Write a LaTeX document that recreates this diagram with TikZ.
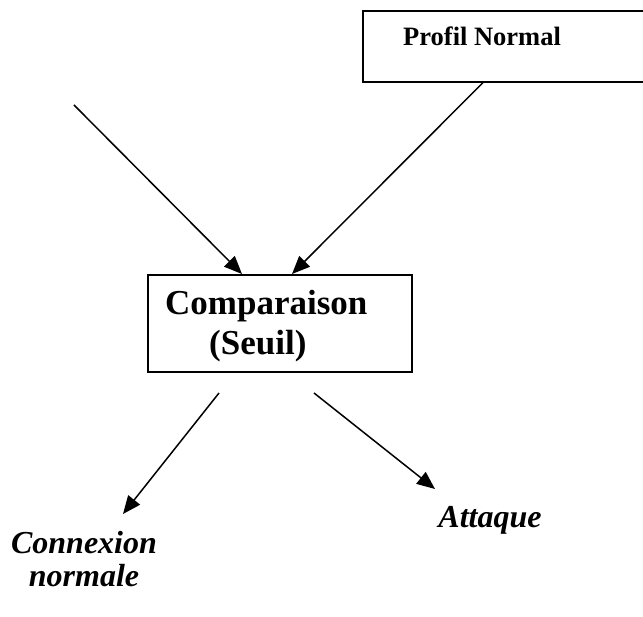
\documentclass[tikz,border=0pt]{standalone}
\usepackage{fontspec}
\setmainfont{Liberation Serif}
\usetikzlibrary{arrows.meta,calc}
\tikzset{
  frame/.style={draw, line width=1.6pt, inner sep=0pt, anchor=north west},
  flow/.style={line width=1.5pt, -{Triangle[length=18pt,width=15pt]}},
  lbl/.style={inner sep=0pt, anchor=base west, font=\bfseries},
  outcome/.style={inner sep=0pt, anchor=base, font=\bfseries\itshape\fontsize{32}{36}\selectfont},
}
\begin{document}
\begin{tikzpicture}[x=1pt,y=-1pt]
  \useasboundingbox (0,0) rectangle (643,617);
  \begin{scope}
    \clip (0,0) rectangle (643,617);
    % profile box runs off the right edge
    \node[frame, minimum width=320pt, minimum height=71pt] (prof) at (362,10) {};
  \end{scope}
  \node[lbl, font=\bfseries\fontsize{26.5}{30}\selectfont] (profT) at (403,46) {Profil Normal};

  % comparison box
  \node[frame, minimum width=264pt, minimum height=97pt] (cmp) at (147,274) {};
  \node[lbl, font=\bfseries\fontsize{35}{40}\selectfont] (cmpA) at (165,315) {Comparaison};
  \node[lbl, font=\bfseries\fontsize{35}{40}\selectfont] (cmpB) at (209,355) {(Seuil)};

  % outcomes
  \node[outcome] (conA) at (84,553) {Connexion};
  \node[outcome] (conB) at (84,586) {normale};
  \node[outcome] (att) at (490,528) {Attaque};

  % connector ends
  \coordinate (inL) at (74,105);
  \coordinate (outL0) at (219,393);
  \coordinate (outR0) at (314,393);
  \coordinate (outL) at (123,514);
  \coordinate (outR) at (435,489);

  \draw[flow] (inL) -- ($(cmp.north west)+(95,0)$);
  \draw[flow] ($(prof.south west)+(121,0)$) -- ($(cmp.north west)+(145,0)$);
  \draw[flow] (outL0) -- (outL);
  \draw[flow] (outR0) -- (outR);
\end{tikzpicture}
\end{document}
